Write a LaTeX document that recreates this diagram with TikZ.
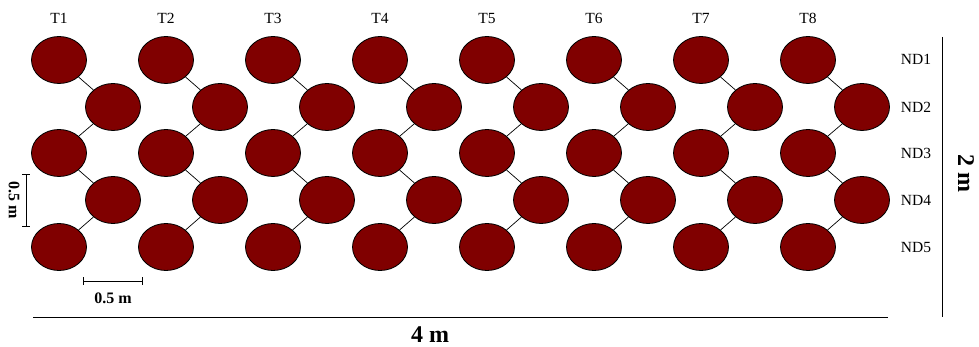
\documentclass[tikz,border=0pt]{standalone}
\usepackage{fontspec}
\setmainfont{Liberation Serif}
\usetikzlibrary{shapes.geometric}
\definecolor{treered}{HTML}{800000}
\begin{document}
\begin{tikzpicture}[x=1pt,y=-1pt,
  tree/.style={ellipse, draw=black, line width=0.8pt, fill=treered, minimum width=55pt, minimum height=47pt, inner sep=0pt},
  link/.style={draw=black, line width=0.7pt},
  lbl/.style={font=\fontsize{15.5}{15.5}\selectfont, text height=10.5pt, text depth=0pt, inner sep=0pt},
  dim/.style={font=\bfseries\fontsize{16}{16}\selectfont, inner sep=0pt},
  bigdim/.style={font=\bfseries\fontsize{24}{24}\selectfont, inner sep=0pt, text height=16pt, text depth=0pt},
  rule/.style={draw=black, line width=1pt},
  bar/.style={draw=black, line width=0.8pt, |-|}]
\useasboundingbox (0,0) rectangle (979,347);
\foreach \c in {1,...,8} {
  \pgfmathsetmacro\xl{59+107*(\c-1)}
  \pgfmathsetmacro\xr{\xl+54}
  \node[tree] (t\c-1) at (\xl,60) {};
  \node[tree] (t\c-2) at (\xr,107) {};
  \node[tree] (t\c-3) at (\xl,153) {};
  \node[tree] (t\c-4) at (\xr,200) {};
  \node[tree] (t\c-5) at (\xl,247) {};
  \draw[link] (t\c-1) -- (t\c-2);
  \draw[link] (t\c-2) -- (t\c-3);
  \draw[link] (t\c-3) -- (t\c-4);
  \draw[link] (t\c-4) -- (t\c-5);
  \node[lbl] (lab\c) at (\xl,18) {T\c};
}
\foreach \r/\y in {1/59,2/107,3/153,4/200,5/247} {
  \node[lbl] (nd\r) at (916,\y) {ND\r};
}
% overall dimensions
\coordinate (vr1) at (942,37);
\coordinate (vr2) at (942,317);
\draw[rule] (vr1) -- (vr2);
\node[bigdim, rotate=-90] (two) at (966,173) {2 m};
\coordinate (hb1) at (33,317);
\coordinate (hb2) at (888,317);
\draw[rule] (hb1) -- (hb2);
\node[bigdim] (four) at (430,334) {4 m};
% scale bars
\coordinate (sh1) at (83,281);
\coordinate (sh2) at (143,281);
\draw[bar] (sh1) -- (sh2);
\node[dim] (shl) at (113,298) {0.5 m};
\coordinate (sv1) at (26,174);
\coordinate (sv2) at (26,227);
\draw[bar] (sv1) -- (sv2);
\node[dim, rotate=-90] (svl) at (14,200) {0.5 m};
\end{tikzpicture}
\end{document}
